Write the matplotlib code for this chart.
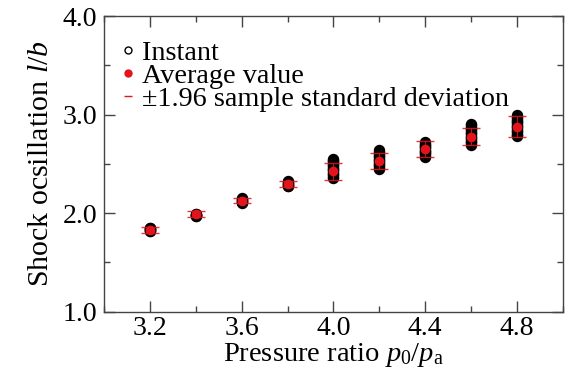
import matplotlib
matplotlib.use("Agg")
import matplotlib.pyplot as plt
from matplotlib.lines import Line2D
from matplotlib.ticker import MultipleLocator, FormatStrFormatter

plt.rcParams["font.family"] = ["Liberation Serif", "DejaVu Serif"]
plt.rcParams["mathtext.fontset"] = "custom"
plt.rcParams["mathtext.rm"] = "Liberation Serif"
plt.rcParams["mathtext.it"] = "Liberation Serif:italic"

# pressure ratio p0/pa
ratio = [3.2, 3.4, 3.6, 3.8, 4.0, 4.2, 4.4, 4.6, 4.8]

# instantaneous shock oscillation values (l/b)
instant = [
    [1.817, 1.822, 1.828, 1.832, 1.836, 1.840, 1.845, 1.852],
    [1.967, 1.972, 1.977, 1.981, 1.985, 1.989, 1.994],
    [2.105, 2.112, 2.118, 2.125, 2.131, 2.138, 2.145, 2.152],
    [2.274, 2.281, 2.288, 2.294, 2.301, 2.308, 2.315, 2.322],
    [2.359, 2.372, 2.385, 2.398, 2.411, 2.424, 2.437, 2.450, 2.463,
     2.476, 2.489, 2.502, 2.515, 2.528, 2.540, 2.552],
    [2.451, 2.463, 2.476, 2.489, 2.502, 2.515, 2.528, 2.541, 2.554,
     2.567, 2.580, 2.593, 2.606, 2.619, 2.637],
    [2.573, 2.585, 2.597, 2.609, 2.621, 2.633, 2.645, 2.657, 2.669,
     2.681, 2.693, 2.705, 2.721],
    [2.697, 2.710, 2.723, 2.736, 2.749, 2.762, 2.775, 2.788, 2.801,
     2.814, 2.827, 2.840, 2.853, 2.866, 2.879, 2.893, 2.908],
    [2.782, 2.795, 2.808, 2.821, 2.834, 2.847, 2.860, 2.873, 2.886,
     2.899, 2.912, 2.925, 2.938, 2.951, 2.964, 2.978, 2.992],
]

# average value and 1.96 * sample standard deviation
average = [1.830, 1.989, 2.127, 2.293, 2.425, 2.530, 2.652, 2.777, 2.878]
dev196 = [0.027, 0.029, 0.027, 0.030, 0.088, 0.081, 0.079, 0.086, 0.107]

RED = "#e3141c"

fig = plt.figure(figsize=(5.68, 3.76), dpi=100)
ax = fig.add_axes([0.183, 0.171, 0.808, 0.786])

for x, vals in zip(ratio, instant):
    ax.plot([x] * len(vals), vals, linestyle="none", marker="o",
            markersize=6.6, markerfacecolor="none", markeredgecolor="black",
            markeredgewidth=1.6, zorder=2)

ax.errorbar(ratio, average, yerr=dev196, fmt="none", ecolor=RED,
            elinewidth=0.8, capsize=6.5, capthick=1.0, alpha=0.85, zorder=3)
ax.plot(ratio, average, linestyle="none", marker="o", markersize=7,
        color=RED, markeredgewidth=0, zorder=4)

ax.set_xlim(3.0, 5.0)
ax.set_ylim(1.0, 4.0)
ax.xaxis.set_major_locator(MultipleLocator(0.4))
ax.xaxis.set_minor_locator(MultipleLocator(0.2))
ax.set_xticks([3.2, 3.6, 4.0, 4.4, 4.8])
ax.xaxis.set_major_formatter(FormatStrFormatter("%.1f"))
ax.yaxis.set_major_locator(MultipleLocator(1.0))
ax.yaxis.set_minor_locator(MultipleLocator(0.5))
ax.yaxis.set_major_formatter(FormatStrFormatter("%.1f"))
ax.tick_params(which="both", direction="in", top=True, right=True,
               color="#444444", labelsize=20)
ax.tick_params(axis="y", pad=5)
ax.tick_params(axis="x", pad=3)
ax.tick_params(which="major", length=8, width=1)
ax.tick_params(which="minor", length=4.5, width=1)
for s in ax.spines.values():
    s.set_color("#444444")
    s.set_linewidth(1)

ax.set_xlabel(r"Pressure ratio $p_0/p_\mathrm{a}$", fontsize=20.5, labelpad=0)
ax.set_ylabel(r"Shock ocsillation $l/b$", fontsize=21.5, labelpad=6)

handles = [
    Line2D([], [], linestyle="none", marker="o", markersize=5,
           markerfacecolor="none", markeredgecolor="black", markeredgewidth=1),
    Line2D([], [], linestyle="none", marker="o", markersize=6,
           color=RED, markeredgewidth=0),
    Line2D([], [], linestyle="none", marker="_", markersize=6,
           color=RED, markeredgewidth=1),
]
ax.legend(handles, ["Instant", "Average value",
                    "\u00b11.96 sample standard deviation"],
          loc="upper left", bbox_to_anchor=(0.01, 0.965), frameon=False,
          fontsize=20.3, handlelength=0.4, handletextpad=0.3,
          labelspacing=-0.1, borderaxespad=0.3, borderpad=0.2)

fig.savefig("out.png", dpi=100)
